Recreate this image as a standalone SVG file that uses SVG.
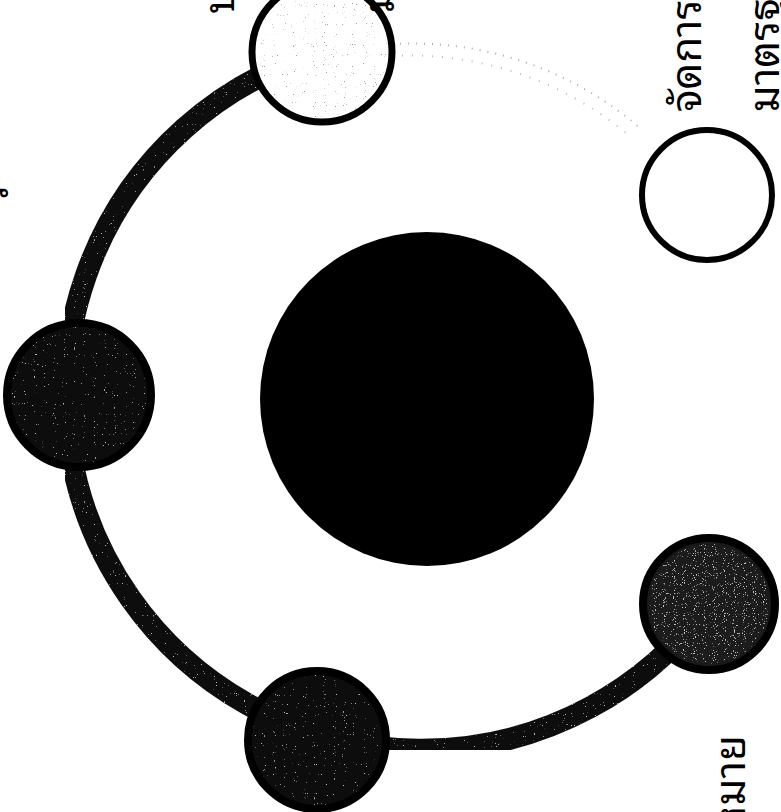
<svg xmlns="http://www.w3.org/2000/svg" width="781" height="812" viewBox="0 0 781 812">
<style>
  .lbl{font-family:"Noto Sans Thai Looped","Loma","Garuda","Tlwg Typo","Noto Sans Thai","Noto Sans","DejaVu Sans",sans-serif;font-size:42px;fill:#000}
  .dark{fill:#0c0c0c;stroke:#000;stroke-width:8}
  .open{fill:#fff;stroke:#000;stroke-width:7}
</style>
<defs>
  <filter id="speck" x="0" y="0" width="100%" height="100%">
    <feTurbulence type="fractalNoise" baseFrequency="0.9" numOctaves="1" seed="4" result="n"/>
    <feColorMatrix in="n" type="matrix" values="0 0 0 0 0.5  0 0 0 0 0.5  0 0 0 0 0.5  20 0 0 0 -14.2" result="dots"/>
    <feComposite in="dots" in2="SourceAlpha" operator="in" result="d2"/>
    <feMerge><feMergeNode in="SourceGraphic"/><feMergeNode in="d2"/></feMerge>
  </filter>
  <filter id="speckDense" x="0" y="0" width="100%" height="100%">
    <feTurbulence type="fractalNoise" baseFrequency="0.9" numOctaves="1" seed="9" result="n"/>
    <feColorMatrix in="n" type="matrix" values="0 0 0 0 0.55  0 0 0 0 0.55  0 0 0 0 0.55  14 0 0 0 -9" result="dots"/>
    <feComposite in="dots" in2="SourceAlpha" operator="in" result="d2"/>
    <feMerge><feMergeNode in="SourceGraphic"/><feMergeNode in="d2"/></feMerge>
  </filter>
  <filter id="speckLight" x="0" y="0" width="100%" height="100%">
    <feTurbulence type="fractalNoise" baseFrequency="0.9" numOctaves="1" seed="7" result="n"/>
    <feColorMatrix in="n" type="matrix" values="0 0 0 0 0.35  0 0 0 0 0.35  0 0 0 0 0.35  16 0 0 0 -11" result="dots"/>
    <feComposite in="dots" in2="SourceAlpha" operator="in" result="d2"/>
    <feMerge><feMergeNode in="SourceGraphic"/><feMergeNode in="d2"/></feMerge>
  </filter>
</defs>
<rect width="781" height="812" fill="#fff"/>
<g id="connectors">
  <path d="M322,52 A356,356 0 1 0 709,604" fill="none" stroke="#0e0e0e" stroke-width="22" filter="url(#speck)"/>
  <path d="M392,44 A350,350 0 0 1 640,128" fill="none" stroke="#aaa" stroke-width="2" stroke-dasharray="1 7"/>
  <path d="M392,56 A342,342 0 0 1 632,138" fill="none" stroke="#bbb" stroke-width="2" stroke-dasharray="1 9"/>
</g>
<g id="hub"><circle cx="427" cy="399" r="167" fill="#000"/></g>
<g id="node-top"><circle cx="322" cy="52" r="70" class="open"/><circle cx="322" cy="52" r="66" fill="#fff" filter="url(#speckLight)"/></g>
<g id="node-left"><circle cx="79" cy="395" r="72" class="dark"/><circle cx="79" cy="395" r="68" fill="#0c0c0c" filter="url(#speck)"/></g>
<g id="node-bottom"><circle cx="317" cy="740" r="69" class="dark"/><circle cx="317" cy="740" r="65" fill="#0c0c0c" filter="url(#speck)"/></g>
<g id="node-right"><circle cx="709" cy="604" r="66" fill="#1a1a1a" stroke="#000" stroke-width="8"/><circle cx="709" cy="604" r="60" fill="#1a1a1a" filter="url(#speckDense)"/></g>
<g id="node-topright"><circle cx="707" cy="195" r="65" fill="#fff" stroke="#000" stroke-width="6"/>
  <text class="lbl" transform="translate(701,112) rotate(-90)">จัดการ</text>
  <text class="lbl" transform="translate(779,112) rotate(-90)">มาตรฐาน</text>
</g>
<g id="labels">
  <text class="lbl" transform="translate(745,735) rotate(-90)" text-anchor="end">หมาย</text>
  <text class="lbl" transform="translate(234,14) rotate(-90)">บ</text>
  <text class="lbl" transform="translate(394,13) rotate(-90)">ม</text>
  <text class="lbl" transform="translate(8,205) rotate(-90)">ร</text>
</g>
</svg>
